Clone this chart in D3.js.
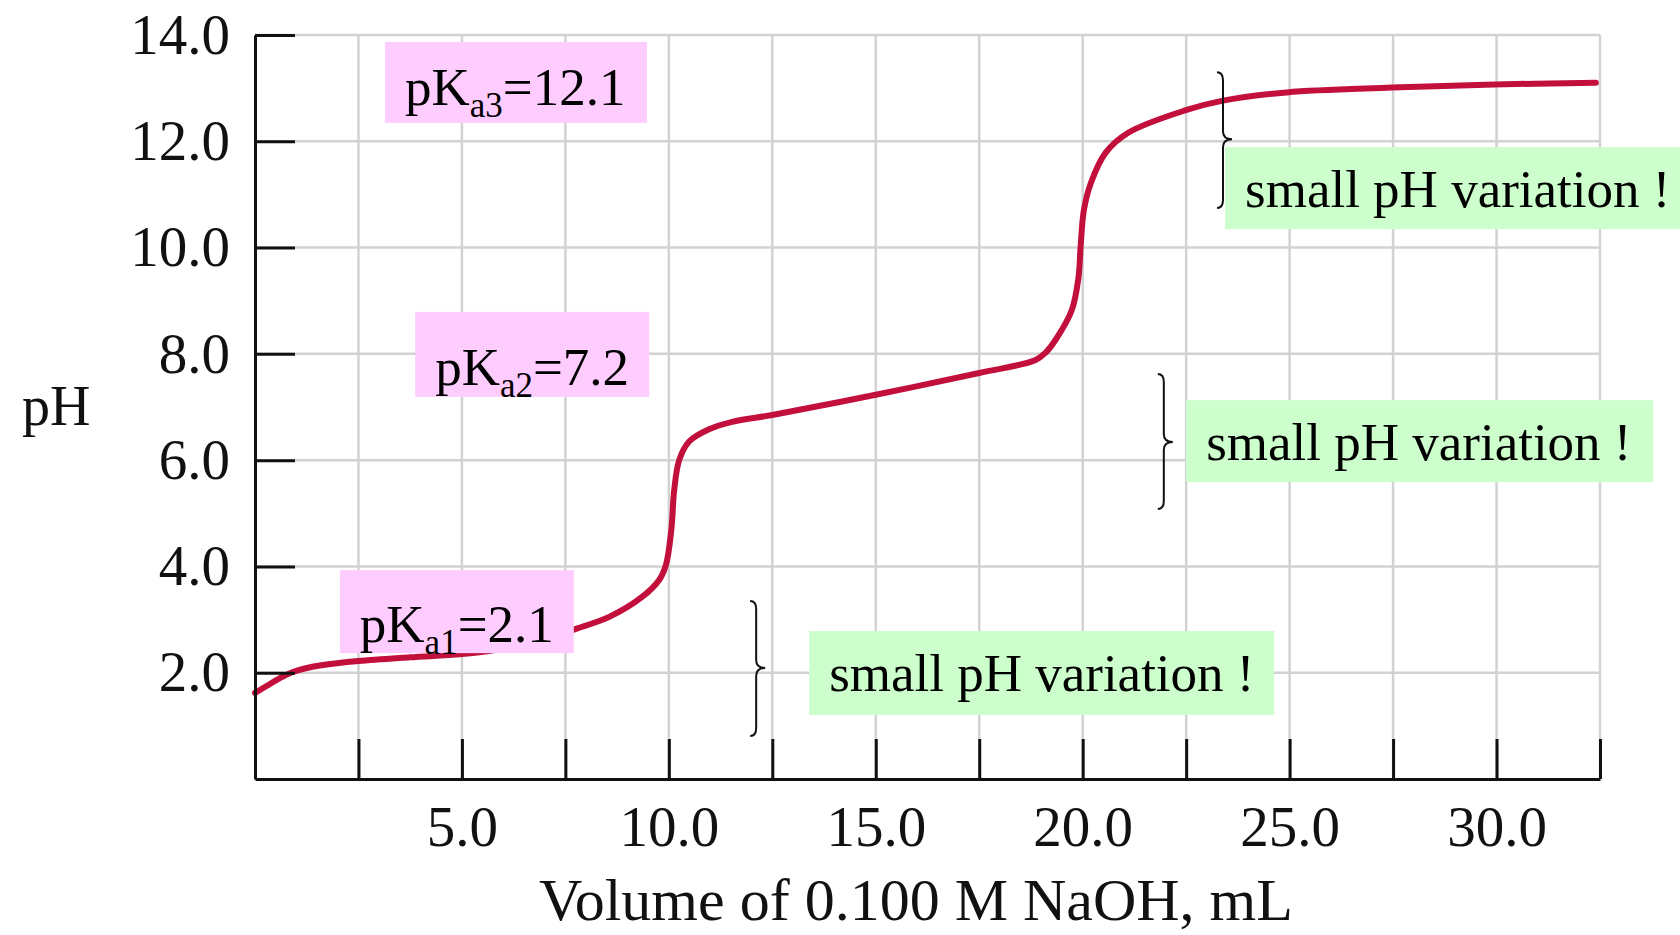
<!DOCTYPE html>
<html>
<head>
<meta charset="utf-8">
<script src="https://cdn.jsdelivr.net/npm/d3@7"></script>
<style>
  html, body { margin: 0; padding: 0; background: #fff; }
  svg { display: block; }
</style>
</head>
<body>
<svg id="chart" width="1680" height="935"></svg>
<script>
// Titration of a triprotic acid (H3PO4) with 0.100 M NaOH
const volumes = [0, 0.3, 0.6, 0.9, 1.2, 1.6, 2.5, 3.75, 5.0, 6.0, 6.8, 7.3, 7.67, 8.56, 9.36, 9.77, 9.93,
  10.06, 10.13, 10.25, 10.49, 10.97, 11.53, 12.5, 15.0, 17.5, 18.85, 19.1, 19.35, 19.74, 19.9,
  19.95, 20.03, 20.2, 20.56, 21.1, 22.47, 23.36, 24.93, 27.47, 29.95, 32.4];
const pHValues = [1.62, 1.76, 1.9, 2.01, 2.08, 2.14, 2.22, 2.29, 2.35, 2.45, 2.58, 2.68, 2.8, 3.05, 3.43, 3.75, 4.03,
  4.69, 5.44, 6.0, 6.35, 6.58, 6.72, 6.85, 7.23, 7.64, 7.88, 8.02, 8.27, 8.83, 9.45,
  10.02, 10.71, 11.22, 11.79, 12.16, 12.58, 12.76, 12.92, 13.01, 13.07, 13.1];

const xTickValues = d3.range(0, 32.5 + 1e-9, 2.5);
const xLabelValues = [5, 10, 15, 20, 25, 30];
const yTickValues = [2, 4, 6, 8, 10, 12, 14];

// pKa call-outs: subscript, value, box corner (mL, pH)
const pKaSubs = ["a3", "a2", "a1"];
const pKaValues = ["12.1", "7.2", "2.1"];
const pKaBoxVol = [3.14, 3.87, 2.05];
const pKaBoxPH = [13.87, 8.79, 3.93];

// buffer-region notes: box corner (mL, pH) and the brace beside each
const noteText = "small pH variation !";
const noteBoxVol = [23.44, 22.5, 13.39];
const noteBoxPH = [11.89, 7.13, 2.785];
const braceVol = [23.39, 21.96, 12.11];
const braceTopPH = [13.30, 7.62, 3.35];
const braceBottomPH = [10.745, 5.08, 0.81];
const braceTipPH = [12.04, 6.34, 2.09];

// layout
const pKaBoxSize = [[262, 81], [234, 85], [234, 83]];
const pKaBaseline = [63, 73, 72];
const noteBoxSize = [[470, 82], [467, 82], [465, 84]];
const serif = "'Liberation Serif', 'Times New Roman', serif";

const svg = d3.select("#chart");
const x = d3.scaleLinear().domain([0, 32.5]).range([255, 1600]);
const y = d3.scaleLinear().domain([0, 14]).range([779, 35]);

// grid
const grid = svg.append("g").attr("stroke", "#d2d2d2").attr("stroke-width", 2.5);
grid.selectAll("line.v").data(xTickValues.filter(d => d > 0)).join("line")
  .attr("class", "v")
  .attr("x1", d => x(d)).attr("x2", d => x(d))
  .attr("y1", y(0)).attr("y2", y(14));
grid.selectAll("line.h").data(yTickValues).join("line")
  .attr("class", "h")
  .attr("x1", x(0)).attr("x2", x(32.5))
  .attr("y1", d => y(d)).attr("y2", d => y(d));

// titration curve
const pts = volumes.map((v, i) => [v, pHValues[i]]);
const line = d3.line().x(d => x(d[0])).y(d => y(d[1])).curve(d3.curveCatmullRom.alpha(0.5));
svg.append("path")
  .attr("d", line(pts))
  .attr("fill", "none")
  .attr("stroke", "#c30f3c")
  .attr("stroke-width", 6)
  .attr("stroke-linejoin", "round")
  .attr("stroke-linecap", "round");

// axes
const yAxis = d3.axisLeft(y).tickValues(yTickValues)
  .tickSizeInner(-40).tickSizeOuter(0).tickPadding(25)
  .tickFormat(d => d.toFixed(1));
const gy = svg.append("g").attr("transform", `translate(${x(0)},0)`).call(yAxis);

const xAxis = d3.axisBottom(x).tickValues(xTickValues)
  .tickSizeInner(-40).tickSizeOuter(0).tickPadding(27)
  .tickFormat(d => xLabelValues.includes(d) ? d.toFixed(1) : "");
const gx = svg.append("g").attr("transform", `translate(0,${y(0)})`).call(xAxis);

[gx, gy].forEach(g => {
  g.attr("font-family", serif).attr("font-size", 57);
  g.selectAll("path.domain").attr("stroke", "#111").attr("stroke-width", 3);
  g.selectAll(".tick line").attr("stroke", "#111").attr("stroke-width", 3);
  g.selectAll(".tick text").attr("fill", "#111");
});

// axis titles
svg.append("text")
  .attr("x", 916).attr("y", 920)
  .attr("text-anchor", "middle")
  .attr("font-family", serif).attr("font-size", 60).attr("fill", "#111")
  .text("Volume of 0.100 M NaOH, mL");
svg.append("text")
  .attr("x", 22).attr("y", 425)
  .attr("font-family", serif).attr("font-size", 56).attr("fill", "#111")
  .text("pH");

// braces
function bracePath(sx, y0, y1, yt) {
  const h = 6, t = 9, r = 8;
  return `M${sx - h},${y0} Q${sx},${y0} ${sx},${y0 + r} L${sx},${yt - r} ` +
         `Q${sx},${yt} ${sx + t},${yt} Q${sx},${yt} ${sx},${yt + r} ` +
         `L${sx},${y1 - r} Q${sx},${y1} ${sx - h},${y1}`;
}
svg.append("g").selectAll("path").data(braceVol).join("path")
  .attr("d", (v, i) => bracePath(x(v), y(braceTopPH[i]), y(braceBottomPH[i]), y(braceTipPH[i])))
  .attr("fill", "none").attr("stroke", "#111").attr("stroke-width", 2);

// pKa boxes
pKaSubs.forEach((sub, i) => {
  const bx = x(pKaBoxVol[i]), by = y(pKaBoxPH[i]);
  const g = svg.append("g");
  g.append("rect").attr("x", bx).attr("y", by)
    .attr("width", pKaBoxSize[i][0]).attr("height", pKaBoxSize[i][1])
    .attr("fill", "#ffccff");
  const t = g.append("text").attr("x", bx + 20).attr("y", by + pKaBaseline[i])
    .attr("font-family", serif).attr("font-size", 53).attr("fill", "#000");
  t.append("tspan").text("pK");
  t.append("tspan").attr("font-size", 35).attr("dy", 12).text(sub);
  t.append("tspan").attr("dy", -12).text("=" + pKaValues[i]);
});

// buffer-region notes
noteBoxVol.forEach((v, i) => {
  const bx = x(v), by = y(noteBoxPH[i]);
  svg.append("rect").attr("x", bx).attr("y", by)
    .attr("width", noteBoxSize[i][0]).attr("height", noteBoxSize[i][1])
    .attr("fill", "#ccffcc");
  svg.append("text").attr("x", bx + 20).attr("y", by + 60)
    .attr("font-family", serif).attr("font-size", 53).attr("fill", "#000")
    .text(noteText);
});
</script>
</body>
</html>
